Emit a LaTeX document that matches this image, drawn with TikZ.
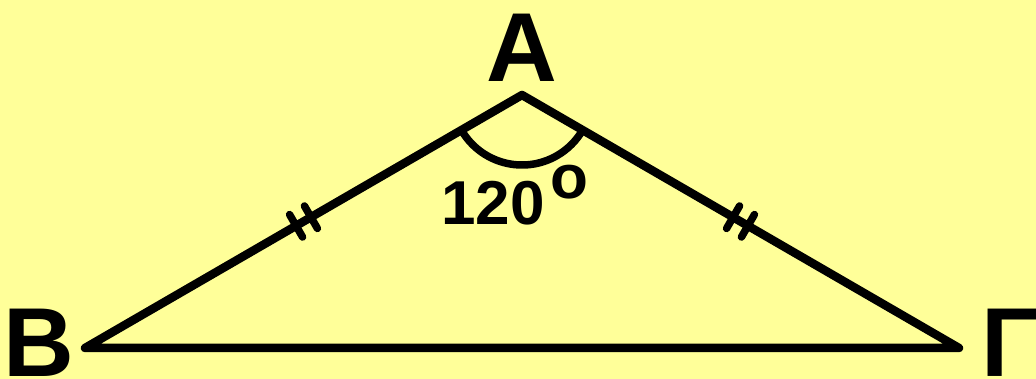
\documentclass[tikz,border=0pt]{standalone}
\usepackage{fontspec}
\setmainfont{Liberation Sans}
\usetikzlibrary{calc}
\definecolor{bgyellow}{RGB}{255,255,153}
\begin{document}
\begin{tikzpicture}[x=1pt,y=1pt,
  edge/.style={line width=8.5pt,line join=round,line cap=round},
  tick/.style={line width=7.5pt,line cap=round},
  vlabel/.style={inner sep=0pt,font=\fontsize{98}{98}\selectfont\bfseries},
  anglabel/.style={inner sep=0pt,font=\fontsize{62}{62}\selectfont\bfseries}]
\fill[bgyellow] (0,0) rectangle (1036,379);
\useasboundingbox (0,0) rectangle (1036,379);
\coordinate (A) at (522,284);
\coordinate (B) at (85,31);
\coordinate (G) at (959,31);
\draw[edge] (A) -- (B) -- (G) -- cycle;
% angle arc
\draw[line width=7.5pt] ($(A)+(210:70)$) arc[start angle=210,end angle=330,radius=70];
% tick marks
\foreach \t in {0.483,0.517}{
  \coordinate (P) at ($(A)!\t!(B)$);
  \draw[tick] ($(P)+(120:13)$) -- ($(P)+(300:13)$);
  \coordinate (Q) at ($(A)!\t!(G)$);
  \draw[tick] ($(Q)+(60:13)$) -- ($(Q)+(240:13)$);
}
\node[vlabel,anchor=base] (lA) at (522,297) {A};
\node[vlabel,anchor=base west] (lB) at (3,2) {B};
\node[vlabel,anchor=base west] (lG) at (981,2) {Γ};
\node[anglabel,anchor=base west] (l120) at (441,154) {120};
\node[anglabel,anchor=base west] (lo) at (550,180) {o};
\end{tikzpicture}
\end{document}
